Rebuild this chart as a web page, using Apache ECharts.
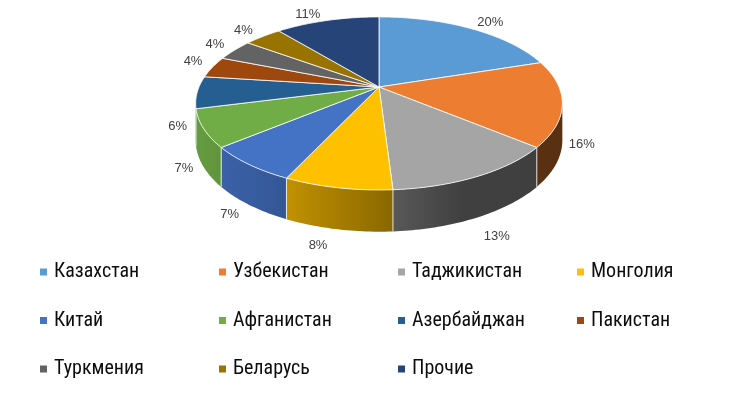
<!DOCTYPE html>
<html><head><meta charset="utf-8">
<script src="https://cdn.jsdelivr.net/npm/echarts@6/dist/echarts.min.js"></script>
<style>html,body{margin:0;padding:0;background:#fff}#c{width:741px;height:398px}</style>
</head><body><div id="c"></div>
<script>
const categories = ['Казахстан','Узбекистан','Таджикистан','Монголия','Китай','Афганистан','Азербайджан','Пакистан','Туркмения','Беларусь','Прочие'];
const values = [20,16,13,8,7,7,6,4,4,4,11];
const colors = ['#5B9BD5','#ED7D31','#A5A5A5','#FFC000','#4472C4','#70AD47','#255E91','#9E480E','#636363','#997300','#264478'];

const CX=379, CY=87, A=180, B=83.4, K=0.19, T=36;
const total = values.reduce((a,b)=>a+b,0);
function proj(X,Z,drop){const s=1/(1-K*Z);return [CX+A*X*s, CY+B*Z*s+(drop?T*Math.pow(s,0.7):0)];}
function pt(deg,r,drop){const p=deg*Math.PI/180;return proj(r*Math.sin(p),-r*Math.cos(p),drop);}
const VIS0 = 90+Math.asin(K)*180/Math.PI, VIS1 = 360-VIS0;
function shade(hex,f){const n=parseInt(hex.slice(1),16);const r=Math.round(((n>>16)&255)*f),g=Math.round(((n>>8)&255)*f),b=Math.round((n&255)*f);return 'rgb('+r+','+g+','+b+')';}
const FX=[196,280,388,460,563], FF=[0.9,0.77,0.55,0.39,0.38];
function fAt(x){if(x<=FX[0])return FF[0];for(let i=1;i<FX.length;i++){if(x<=FX[i]){const t=(x-FX[i-1])/(FX[i]-FX[i-1]);return FF[i-1]+t*(FF[i]-FF[i-1]);}}return FF[FF.length-1];}
function arc(a0,a1,drop){const pts=[];const n=Math.max(2,Math.ceil(Math.abs(a1-a0)));for(let j=0;j<=n;j++){pts.push(pt(a0+(a1-a0)*j/n,1,drop));}return pts;}

function renderItem(params, api){
  const i=params.seriesIndex;
  let cum=0;for(let j=0;j<i;j++)cum+=values[j];
  const start=cum/total*360, end=(cum+values[i])/total*360;
  const color=colors[i];
  const children=[];
  const topPts=[[CX,CY]].concat(arc(start,end,false));
  children.push({type:'polygon',z2:10,shape:{points:topPts},style:{fill:color,stroke:'#ffffff',lineWidth:0.8,lineJoin:'round'}});
  const a0=Math.max(start,VIS0), a1=Math.min(end,VIS1);
  if(a1>a0){
    const top=arc(a0,a1,false), bot=arc(a1,a0,true);
    const all=top.concat(bot);
    let mn=Infinity,mx=-Infinity;all.forEach(p=>{mn=Math.min(mn,p[0]);mx=Math.max(mx,p[0]);});
    const stops=[];for(let j=0;j<=6;j++){const o=j/6;stops.push({offset:o,color:shade(color,fAt(mn+o*(mx-mn)))});}
    children.push({type:'polygon',z2:1,shape:{points:all},style:{fill:new echarts.graphic.LinearGradient(0,0,1,0,stops)}});
    if(start>=VIS0&&start<=VIS1){const p1=pt(start,1,false),p2=pt(start,1,true);children.push({type:'line',z2:2,shape:{x1:p1[0],y1:p1[1],x2:p2[0],y2:p2[1]},style:{stroke:'#ffffff',lineWidth:0.8}});}
  }
  const mid=(start+end)/2;const rad=mid*Math.PI/180;const X=Math.sin(rad), Z=-Math.cos(rad);
  const ep=pt(mid,1,Z>0);
  const ox=(X>=0?1:-1)*19.5;
  const oy=Z<0?-6:(-2+19*Z*Z+(X>0?6:0));
  children.push({type:'text',z2:20,x:ep[0]+ox,y:ep[1]+oy,style:{text:Math.round(values[i]/total*100)+'%',fill:'#404040',font:'13px "Liberation Sans", Arial, sans-serif',align:'center',verticalAlign:'middle'}});
  return {type:'group',children};
}

const series=categories.map((name,i)=>({type:'custom',name,coordinateSystem:'none',data:[[values[i]]],itemStyle:{color:colors[i]},renderItem,silent:true,animation:false}));
const legend=[0,1,2,3].map(c=>({orient:'vertical',left:40+179*c,top:262,itemWidth:7,itemHeight:7,itemGap:28.5,icon:'rect',padding:0,selectedMode:false,
  textStyle:{fontFamily:'"Roboto Condensed", "Liberation Sans", sans-serif',fontSize:20,color:'#0d0d0d',lineHeight:20,padding:[0,0,0,2]},
  data:categories.filter((_,i)=>i%4===c)}));
const chart=echarts.init(document.getElementById('c'));
chart.setOption({animation:false,legend,series});
</script></body></html>
